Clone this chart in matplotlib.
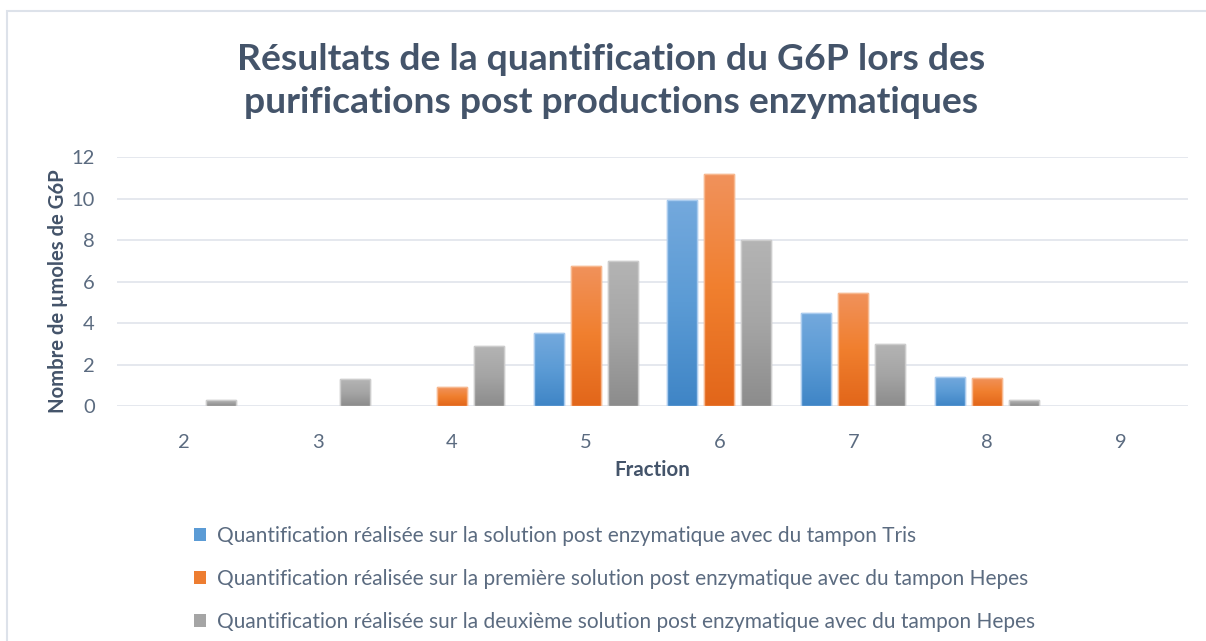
import matplotlib
matplotlib.use("Agg")
import matplotlib.pyplot as plt
import numpy as np
from matplotlib.colors import LinearSegmentedColormap

plt.rcParams["font.family"] = ["Lato", "DejaVu Sans"]

fractions = ["2", "3", "4", "5", "6", "7", "8", "9"]
tris = [0, 0, 0, 3.5, 9.95, 4.5, 1.4, 0]
hepes_1 = [0, 0, 0.9, 6.75, 11.2, 5.45, 1.35, 0]
hepes_2 = [0.3, 1.3, 2.9, 7.0, 8.0, 3.0, 0.3, 0]

labels = [
    "Quantification réalisée sur la solution post enzymatique avec du tampon Tris",
    "Quantification réalisée sur la première solution post enzymatique avec du tampon Hepes",
    "Quantification réalisée sur la deuxième solution post enzymatique avec du tampon Hepes",
]

# gradient stops (top, middle, bottom) per series, plus edge and legend swatch
styles = [
    {"stops": ["#74a9dd", "#5b9bd5", "#3f85c6"], "edge": "#a9cbee", "solid": "#5b9bd5"},
    {"stops": ["#f1925c", "#f07f2e", "#e2661a"], "edge": "#f7b88f", "solid": "#ed7d31"},
    {"stops": ["#b4b4b4", "#a5a5a5", "#8c8c8c"], "edge": "#cccccc", "solid": "#a5a5a5"},
]

text_dark = "#44546a"
text_tick = "#5b6b80"
grid_col = "#e0e4eb"

fig = plt.figure(figsize=(12.06, 6.41), dpi=100)
ax = fig.add_axes([117 / 1206, 1 - 406 / 641, (1188 - 117) / 1206, (406 - 157) / 641])

# chart frame
fig.add_artist(plt.Rectangle((7 / 1206, -0.1), 1.2, 1 - 11 / 641 + 0.1, transform=fig.transFigure,
                             fill=False, edgecolor="#dde2ea", linewidth=1.5))

x = np.arange(len(fractions))
width = 0.224
offsets = [-0.276, 0.0, 0.276]
series = [tris, hepes_1, hepes_2]

for vals, off, st, lab in zip(series, offsets, styles, labels):
    bars = ax.bar(x + off, vals, width=width, color=st["solid"], edgecolor=st["edge"],
                  linewidth=1.0, label=lab, zorder=3)
    cmap = LinearSegmentedColormap.from_list("g", st["stops"][::-1])
    grad = np.linspace(0, 1, 256).reshape(-1, 1)
    for b in bars:
        h = b.get_height()
        if h <= 0:
            b.set_visible(False)
            continue
        x0 = b.get_x()
        im = ax.imshow(grad, extent=[x0, x0 + b.get_width(), 0, h], origin="lower",
                       aspect="auto", cmap=cmap, zorder=3.5)
        im.set_clip_path(b)
        edge = plt.Rectangle((x0, 0), b.get_width(), h, fill=False, edgecolor=st["edge"],
                             linewidth=1.0, zorder=4)
        ax.add_patch(edge)

ax.set_xlim(-0.5, len(fractions) - 0.5)
ax.set_ylim(0, 12)
ax.set_yticks(range(0, 13, 2))
ax.set_xticks(x)
ax.set_xticklabels(fractions)
ax.tick_params(axis="both", length=0, labelsize=14.5, colors=text_tick)
ax.tick_params(axis="x", pad=20)
ax.tick_params(axis="y", pad=16)
ax.grid(axis="y", color=grid_col, linewidth=1.2, zorder=0)
for s in ax.spines.values():
    s.set_visible(False)

ax.set_xlabel("Fraction", fontsize=14.8, fontweight="bold", color=text_dark, labelpad=7)
ax.set_ylabel("Nombre de µmoles de G6P", fontsize=14.6, fontweight="bold", color=text_dark)
ax.yaxis.set_label_coords(-0.046, 0.462)

fig.text(611 / 1206, 1 - 81 / 641, "Résultats de la quantification du G6P lors des\npurifications post productions enzymatiques",
         ha="center", va="center", fontsize=26.8, fontweight="bold", color=text_dark, linespacing=1.4)

handles = [plt.Rectangle((0, 0), 1, 1, facecolor=st["solid"]) for st in styles]
fig.legend(handles, labels, loc="upper left", bbox_to_anchor=(175 / 1206, 1 - 507 / 641),
           frameon=False, fontsize=15, labelcolor=text_tick, handlelength=0.6, handleheight=0.6,
           handletextpad=0.5, labelspacing=1.1)

fig.savefig("out.png", dpi=100)
